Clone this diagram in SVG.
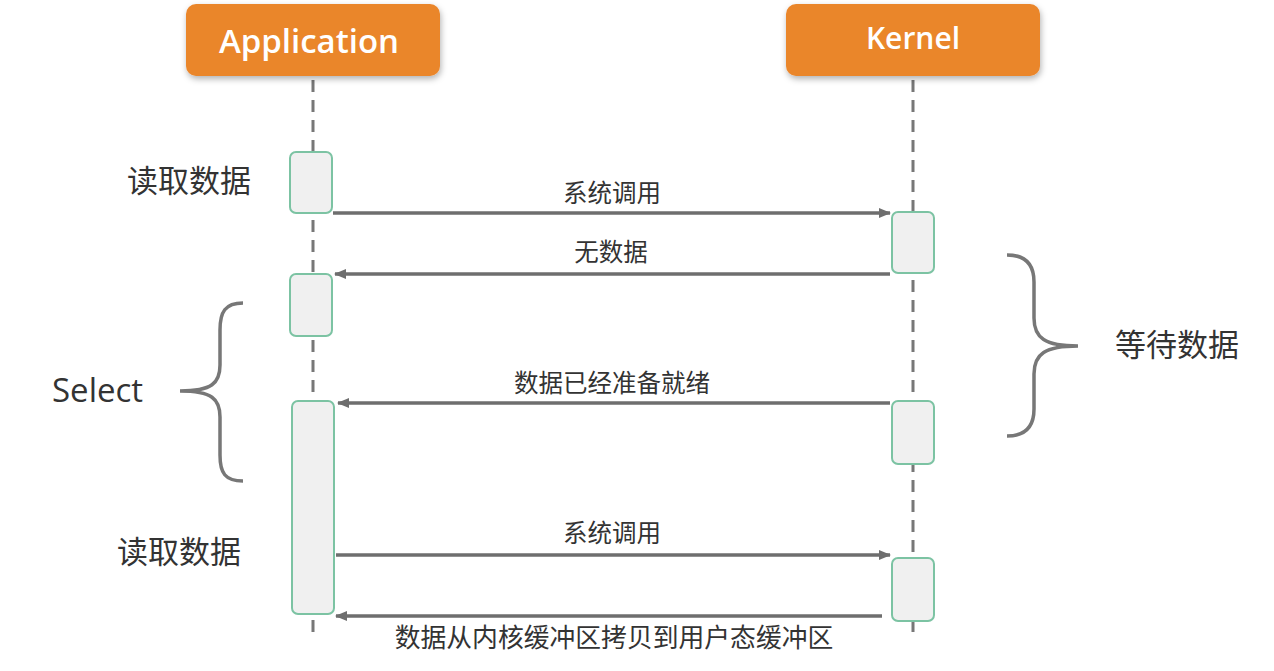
<svg xmlns="http://www.w3.org/2000/svg" width="1274" height="671" viewBox="0 0 1274 671">
<defs>
<filter id="sh" x="-20%" y="-20%" width="140%" height="160%">
<feDropShadow dx="1" dy="3" stdDeviation="3" flood-color="#000" flood-opacity="0.3"/>
</filter>
<marker id="ah" viewBox="0 0 12 10" refX="11" refY="5" markerWidth="12" markerHeight="10" markerUnits="userSpaceOnUse" orient="auto">
<path d="M0,0 L12,5 L0,10 Z" fill="#6e6e6e"/>
</marker>
</defs>
<style>
.hdr{fill:#EA862C;filter:url(#sh)}
.ht{font-family:"Open Sans","Noto Sans",sans-serif;fill:#fff;text-anchor:middle;font-weight:600}
.life{stroke:#777;stroke-width:3;stroke-dasharray:12 8;fill:none}
.act{fill:#f0f0f0;stroke:#7cc3a3;stroke-width:2}
.msg{stroke:#6e6e6e;stroke-width:3.5;fill:none;marker-end:url(#ah)}
.lbl{font-family:"Noto Sans CJK SC","Noto Sans",sans-serif;font-size:24.5px;fill:#333;text-anchor:middle}
.side{font-family:"Noto Sans CJK SC","Noto Sans",sans-serif;font-size:31px;fill:#333}
.brace{stroke:#777;stroke-width:3.5;fill:none}
</style>
<rect width="1274" height="671" fill="#fff"/>
<g id="connectors">
<line class="life" x1="313" y1="80" x2="313" y2="636"/>
<line class="life" x1="913" y1="80" x2="913" y2="636"/>
<line class="msg" x1="333" y1="213" x2="890" y2="213"/>
<line class="msg" x1="890" y1="274" x2="335" y2="274"/>
<line class="msg" x1="890" y1="403" x2="338" y2="403"/>
<line class="msg" x1="336" y1="555" x2="890" y2="555"/>
<line class="msg" x1="882" y1="616" x2="336" y2="616"/>
</g>
<g id="application">
<rect class="hdr" x="186" y="4" width="254" height="72" rx="10"/>
<text class="ht" x="309" y="53" font-size="33">Application</text>
</g>
<g id="kernel">
<rect class="hdr" x="786" y="4" width="254" height="72" rx="10"/>
<text class="ht" x="913" y="49" font-size="30">Kernel</text>
</g>
<g id="app-activations">
<rect class="act" x="290" y="152" width="42" height="61" rx="6"/>
<rect class="act" x="290" y="274" width="42" height="62" rx="6"/>
<rect class="act" x="292" y="401" width="42" height="213" rx="6"/>
</g>
<g id="kernel-activations">
<rect class="act" x="892" y="212" width="42" height="61" rx="6"/>
<rect class="act" x="892" y="401" width="42" height="63" rx="6"/>
<rect class="act" x="892" y="558" width="42" height="63" rx="6"/>
</g>
<g id="labels">
<text class="lbl" x="612" y="202">系统调用</text>
<text class="lbl" x="611" y="261">无数据</text>
<text class="lbl" x="612" y="392">数据已经准备就绪</text>
<text class="lbl" x="612" y="542">系统调用</text>
<text class="lbl" x="614" y="647" style="font-size:25.8px">数据从内核缓冲区拷贝到用户态缓冲区</text>
</g>
<g id="read1"><text class="side" x="127" y="192">读取数据</text></g>
<g id="read2"><text class="side" x="117" y="563">读取数据</text></g>
<g id="select">
<path class="brace" d="M243,303 C225,303 220,312 220,330 L220,365 C220,383 212,391 180,391 C212,391 220,399 220,417 L220,455 C220,473 225,481 243,481"/>
<text x="52" y="402" font-family="Open Sans,Noto Sans,sans-serif" font-size="33" font-weight="500" fill="#333">Select</text>
</g>
<g id="wait">
<path class="brace" d="M1007,255 C1025,255 1034,264 1034,282 L1034,318 C1034,338 1045,346 1078,346 C1045,346 1034,354 1034,374 L1034,409 C1034,427 1025,436 1007,436"/>
<text class="side" x="1115" y="356">等待数据</text>
</g>
</svg>
